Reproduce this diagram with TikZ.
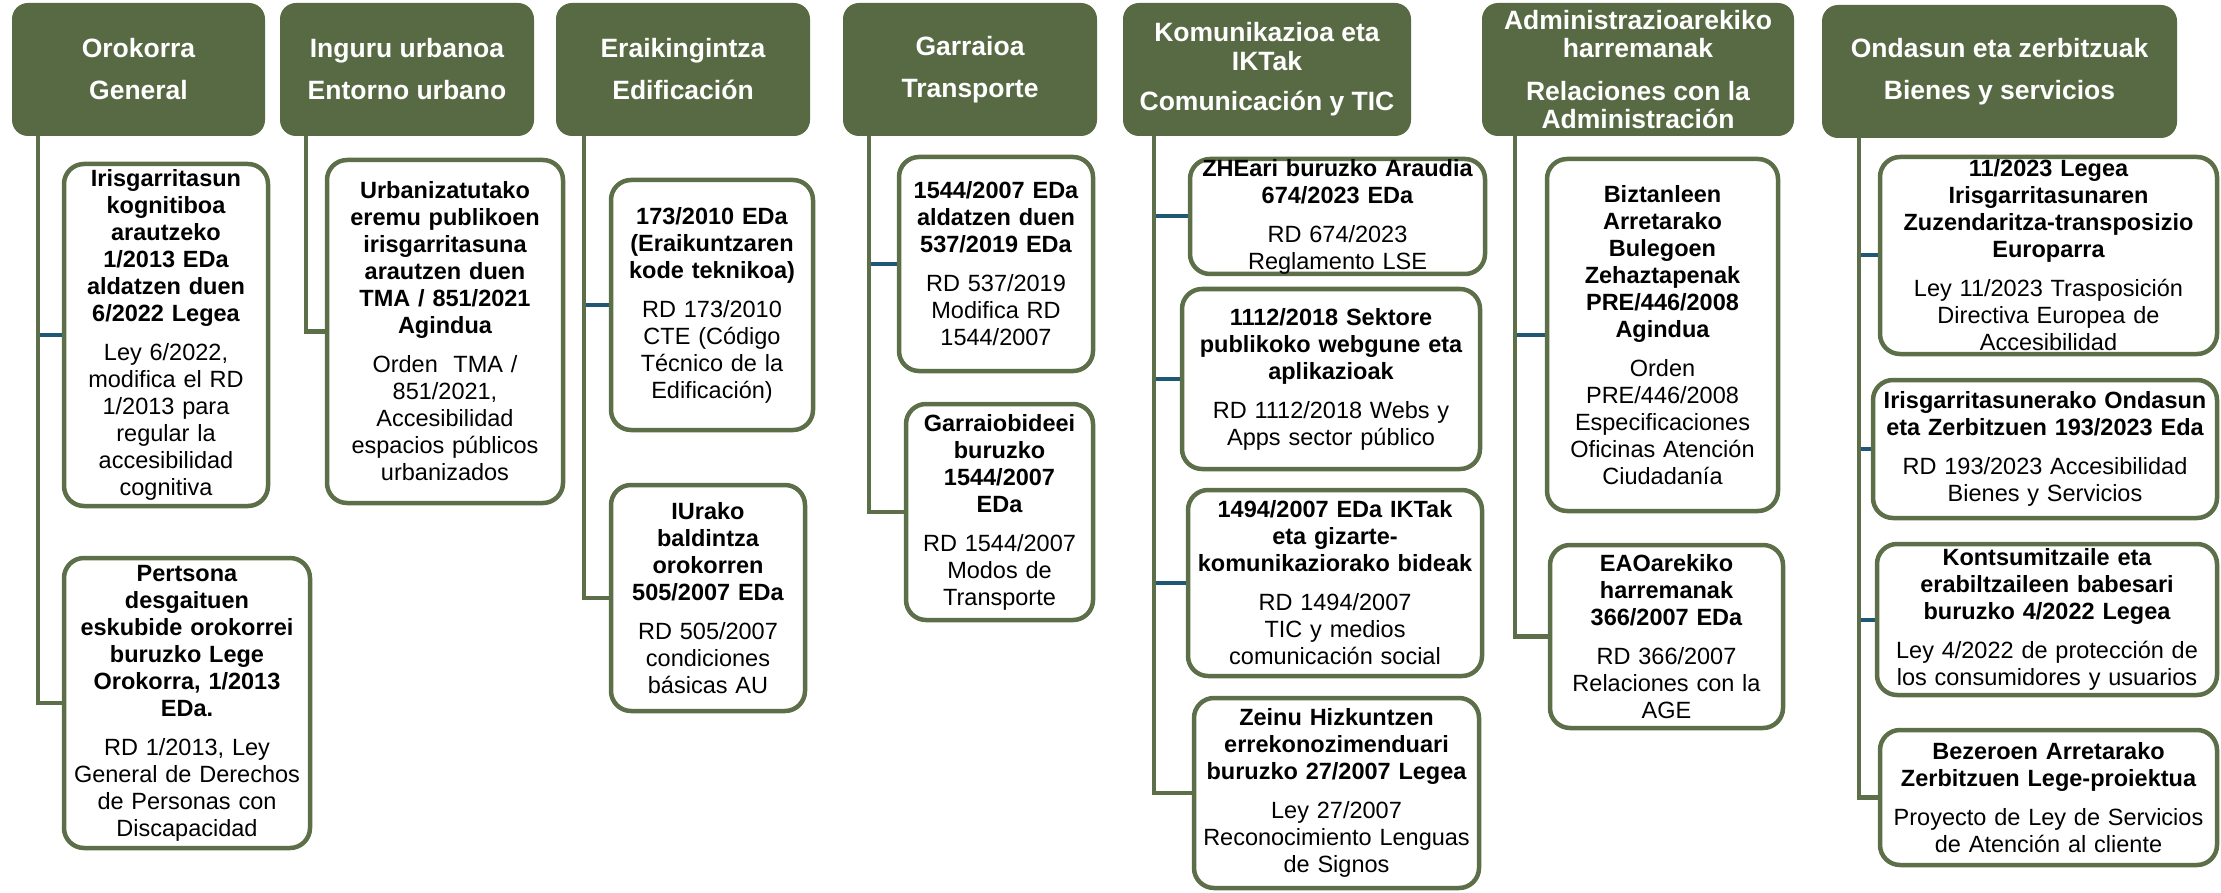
\documentclass[tikz,border=0pt]{standalone}
\usepackage{fontspec}
\setmainfont{Liberation Sans}
\usetikzlibrary{backgrounds}
\definecolor{hdrgreen}{HTML}{586A43}
\definecolor{linegreen}{HTML}{5C6F48}
\definecolor{stubblue}{HTML}{1F5775}
\tikzset{
  hdr/.style={fill=hdrgreen, draw=none, rounded corners=16pt, text=white,
    font=\fontsize{26.5}{28.5}\selectfont\bfseries, align=center, inner sep=0pt},
  lawbox/.style={draw=linegreen, line width=4.5pt, fill=white, rounded corners=20pt,
    align=center, font=\fontsize{23.5}{27}\selectfont, inner sep=0pt},
  trunk/.style={draw=linegreen, line width=4.5pt},
  stub/.style={draw=stubblue, line width=4pt},
}
\newcommand\lawnode[7]{\node[lawbox, minimum width=#4pt, minimum height=#5pt,
  text width={\dimexpr #4pt-10pt\relax}] (#1) at (#2,#3) {\bfseries #6\\[12pt]\mdseries #7};}
\begin{document}
\begin{tikzpicture}[x=1pt,y=-1pt]
\useasboundingbox (0,0) rectangle (2221,893);
% headers
\node[hdr, minimum width=253pt, minimum height=133pt] (h1) at (138.5,69.5) {Orokorra\\[13.5pt]General};
\node[hdr, minimum width=254pt, minimum height=133pt] (h2) at (407,69.5) {Inguru urbanoa\\[13.5pt]Entorno urbano};
\node[hdr, minimum width=254pt, minimum height=133pt] (h3) at (683,69.5) {Eraikingintza\\[13.5pt]Edificación};
\node[hdr, minimum width=254pt, minimum height=133pt] (h4) at (970,69.5) {Garraioa\\[13.5pt]Transporte};
\node[hdr, minimum width=288pt, minimum height=133pt] (h5) at (1267,69.5) {Komunikazioa eta\\IKTak\\[12pt]Comunicación y TIC};
\node[hdr, minimum width=312pt, minimum height=133pt] (h6) at (1638,69.5) {Administrazioarekiko\\harremanak\\[14pt]Relaciones con la\\Administración};
\node[hdr, minimum width=355pt, minimum height=133pt] (h7) at (1999.5,71.5) {Ondasun eta zerbitzuak\\[13.5pt]Bienes y servicios};
% law boxes
\lawnode{b1}{166}{335}{204}{342}{Irisgarritasun\\kognitiboa\\arautzeko\\1/2013 EDa\\aldatzen duen\\6/2022 Legea}{Ley 6/2022,\\modifica el RD\\1/2013 para\\regular la\\accesibilidad\\cognitiva}
\lawnode{b2}{187}{703}{246}{290}{Pertsona\\desgaituen\\eskubide orokorrei\\buruzko Lege\\Orokorra, 1/2013\\EDa.}{RD 1/2013, Ley\\General de Derechos\\de Personas con\\Discapacidad}
\lawnode{b3}{445}{331.5}{236}{343}{Urbanizatutako\\eremu publikoen\\irisgarritasuna\\arautzen duen\\TMA / 851/2021\\Agindua}{Orden~ TMA /\\851/2021,\\Accesibilidad\\espacios públicos\\urbanizados}
\lawnode{b4}{712}{305}{202}{250}{173/2010 EDa\\(Eraikuntzaren\\kode teknikoa)}{RD 173/2010\\CTE (Código\\Técnico de la\\Edificación)}
\lawnode{b5}{708}{598}{194}{226}{IUrako\\baldintza\\orokorren\\505/2007 EDa}{RD 505/2007\\condiciones\\básicas AU}
\lawnode{b6}{996}{264}{194}{214}{1544/2007 EDa\\aldatzen duen\\537/2019 EDa}{RD 537/2019\\Modifica RD\\1544/2007}
\lawnode{b7}{999.5}{512}{187}{216}{Garraiobideei\\buruzko\\1544/2007\\EDa}{RD 1544/2007\\Modos de\\Transporte}
\lawnode{b8}{1337.5}{216.5}{295}{115}{ZHEari buruzko Araudia\\674/2023 EDa}{RD 674/2023\\Reglamento LSE}
\lawnode{b9}{1331}{379}{298}{180}{1112/2018 Sektore\\publikoko webgune eta\\aplikazioak}{RD 1112/2018 Webs y\\Apps sector público}
\lawnode{b10}{1335}{583}{294}{186}{1494/2007 EDa IKTak\\eta gizarte-\\komunikaziorako bideak}{RD 1494/2007\\TIC y medios\\comunicación social}
\lawnode{b11}{1336.5}{793}{285}{190}{Zeinu Hizkuntzen\\errekonozimenduari\\buruzko 27/2007 Legea}{Ley 27/2007\\Reconocimiento Lenguas\\de Signos}
\lawnode{b12}{1662.5}{335}{231}{352}{Biztanleen\\Arretarako\\Bulegoen\\Zehaztapenak\\PRE/446/2008\\Agindua}{Orden\\PRE/446/2008\\Especificaciones\\Oficinas Atención\\Ciudadanía}
\lawnode{b13}{1666.5}{636.5}{233}{183}{EAOarekiko\\harremanak\\366/2007 EDa}{RD 366/2007\\Relaciones con la\\AGE}
\lawnode{b14}{2048.5}{255.5}{337}{197}{11/2023 Legea\\Irisgarritasunaren\\Zuzendaritza-transposizio\\Europarra}{Ley 11/2023 Trasposición\\Directiva Europea de\\Accesibilidad}
\lawnode{b15}{2045}{449}{344}{138}{Irisgarritasunerako Ondasun\\eta Zerbitzuen 193/2023 Eda}{RD 193/2023 Accesibilidad\\Bienes y Servicios}
\lawnode{b16}{2047}{619.5}{340}{151}{Kontsumitzaile eta\\erabiltzaileen babesari\\buruzko 4/2022 Legea}{Ley 4/2022 de protección de\\los consumidores y usuarios}
\lawnode{b17}{2048.5}{797.5}{337}{135}{Bezeroen Arretarako\\Zerbitzuen Lege-proiektua}{Proyecto de Ley de Servicios\\de Atención al cliente}
% trunk tops
\coordinate (t1) at ([xshift=26pt,yshift=6pt]h1.south west);
\coordinate (t2) at ([xshift=26pt,yshift=6pt]h2.south west);
\coordinate (t3) at ([xshift=28pt,yshift=6pt]h3.south west);
\coordinate (t4) at ([xshift=26pt,yshift=6pt]h4.south west);
\coordinate (t5) at ([xshift=31pt,yshift=6pt]h5.south west);
\coordinate (t6) at ([xshift=33pt,yshift=6pt]h6.south west);
\coordinate (t7) at ([xshift=37pt,yshift=6pt]h7.south west);
\begin{scope}[on background layer]
\draw[stub] (t1 |- b1.west) -- (b1.west);
\draw[stub] (t3 |- b4.west) -- (b4.west);
\draw[stub] (t4 |- b6.west) -- (b6.west);
\draw[stub] (t5 |- b8.west) -- (b8.west);
\draw[stub] (t5 |- b9.west) -- (b9.west);
\draw[stub] (t5 |- b10.west) -- (b10.west);
\draw[stub] (t6 |- b12.west) -- (b12.west);
\draw[stub] (t7 |- b14.west) -- (b14.west);
\draw[stub] (t7 |- b15.west) -- (b15.west);
\draw[stub] (t7 |- b16.west) -- (b16.west);
\draw[trunk] (t1) |- (b2.west);
\draw[trunk] (t2) |- (b3.west);
\draw[trunk] (t3) |- (b5.west);
\draw[trunk] (t4) |- (b7.west);
\draw[trunk] (t5) |- (b11.west);
\draw[trunk] (t6) |- (b13.west);
\draw[trunk] (t7) |- (b17.west);
\end{scope}
\end{tikzpicture}
\end{document}
